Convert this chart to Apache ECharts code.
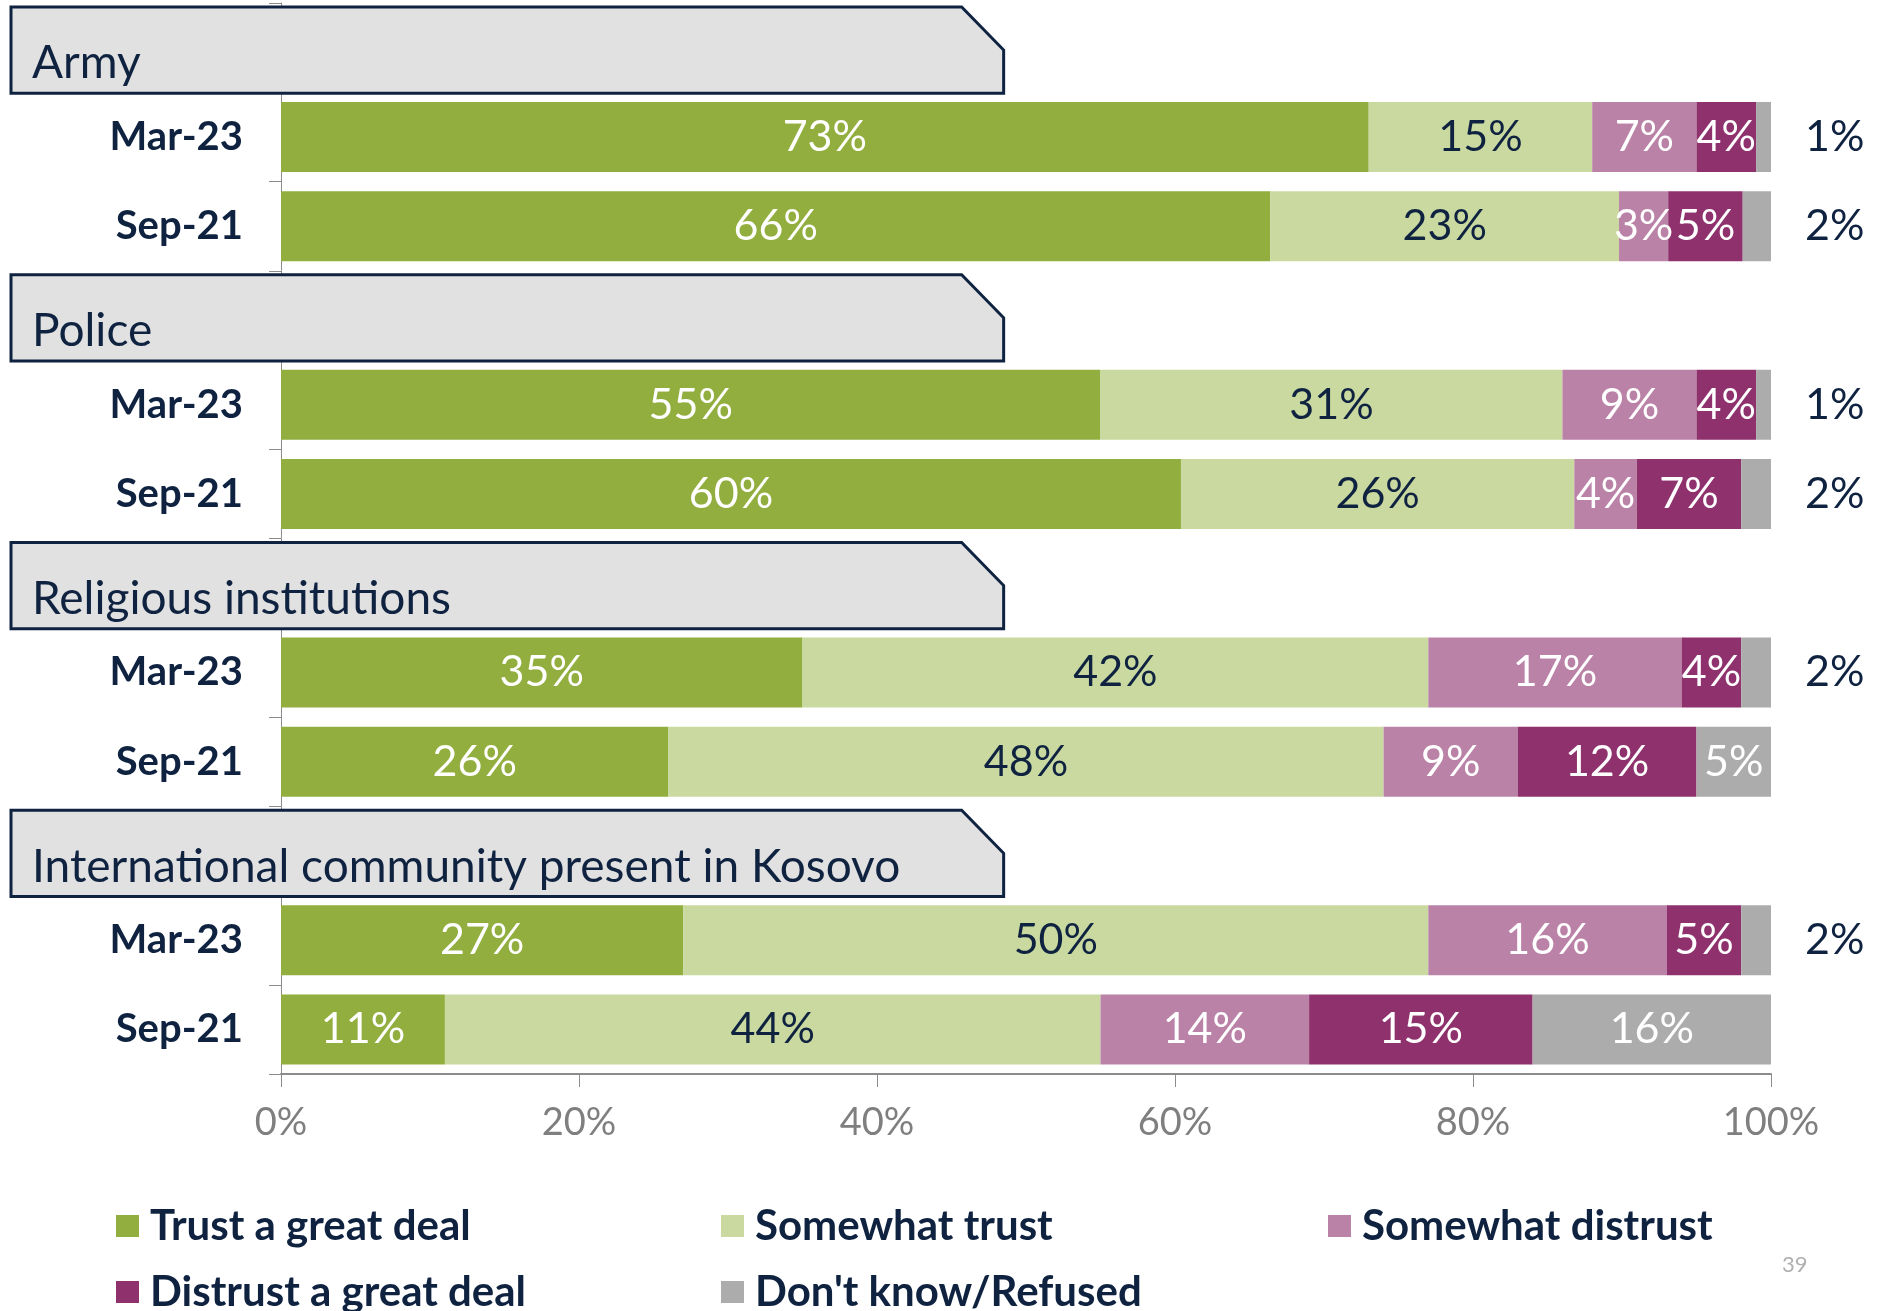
<!DOCTYPE html>
<html>
<head>
<meta charset="utf-8">
<script src="https://cdn.jsdelivr.net/npm/echarts@6/dist/echarts.min.js"></script>
<style>
html,body{margin:0;padding:0;background:#fff;}
#main{width:1877px;height:1311px;}
</style>
</head>
<body>
<div id="main"></div>
<script>
// groups and waves, top to bottom
var groups = ["Army", "Police", "Religious institutions", "International community present in Kosovo"];
var periods = ["Mar-23", "Sep-21"];
var names = ["Trust a great deal", "Somewhat trust", "Somewhat distrust", "Distrust a great deal", "Don't know/Refused"];
// per row: Army Mar, Army Sep, Police Mar, Police Sep, Rel Mar, Rel Sep, Intl Mar, Intl Sep
var trustGreat       = [73, 66.4, 55, 60.4, 35, 26, 27, 11];
var somewhatTrust    = [15, 23.4, 31, 26.4, 42, 48, 50, 44];
var somewhatDistrust = [7, 3.3, 9, 4.2, 17, 9, 16, 14];
var distrustGreat    = [4, 5, 4, 7, 4, 12, 5, 15];
var dontKnow         = [1, 1.9, 1, 2, 2, 5, 2, 16];
var xTicks = [0, 20, 40, 60, 80, 100];

var navy = "#0f2341";
var colors = ["#92ae3e", "#c9d9a0", "#bb82a8", "#8e316d", "#acacac"];

// categories: a header row + two period rows per group
var cats = [], rowLabels = [];
groups.forEach(function(g){
	cats.push(g);
	rowLabels.push("");
	periods.forEach(function(p){
		cats.push(g + "|" + p);
		rowLabels.push(p);
	});
});

function toRows(arr, isGray){
	var out = [];
	groups.forEach(function(g, i){
		out.push("-");
		[arr[2*i], arr[2*i+1]].forEach(function(v){
			if(isGray && v < 5){
				out.push({value:v, label:{position:"right", distance:34, color:navy}});
			}else{
				out.push(v);
			}
		});
	});
	return out;
}

var seriesData = [trustGreat, somewhatTrust, somewhatDistrust, distrustGreat, dontKnow];
var series = seriesData.map(function(arr, i){
	return {
		name:names[i],
		type:"bar",
		stack:"total",
		barWidth:70,
		itemStyle:{color:colors[i]},
		label:{
			show:true,
			position:"inside",
			color:i === 1 ? navy : "#fff",
			fontFamily:"Lato",
			fontSize:43,
			formatter:function(p){ return Math.round(p.value) + "%"; }
		},
		data:toRows(arr, i === 4)
	};
});

// group header tabs
series.push({
	type:"custom",
	z:5,
	clip:false,
	encode:{x:0, y:1},
	data:groups.map(function(g){ return [0, g]; }),
	renderItem:function(params, api){
		var c = api.coord([0, api.value(1)]);
		var band = api.size([0, 1])[1];
		var left = c[0] - 270;
		var right = api.coord([48.5, api.value(1)])[0];
		var top = c[1] - 0.455 * band;
		var bottom = c[1] + 0.51 * band;
		return {
			type:"group",
			children:[
				{
					type:"polygon",
					shape:{points:[[left, top], [right - 42, top], [right, top + 43], [right, bottom], [left, bottom]]},
					style:{fill:"#e1e1e1", stroke:navy, lineWidth:3}
				},
				{
					type:"text",
					style:{
						text:groups[params.dataIndex],
						x:left + 21,
						y:c[1] + 16,
						verticalAlign:"middle",
						fill:navy,
						font:"46px Lato"
					}
				}
			]
		};
	}
});

// one legend per entry, laid out in two rows of fixed columns
var legendCols = [111, 716, 1323];
var legends = names.map(function(n, i){
	return {
		data:[n],
		left:legendCols[i % 3],
		top:i < 3 ? 1200 : 1266,
		icon:"rect",
		itemWidth:23,
		itemHeight:22,
		textStyle:{color:navy, fontFamily:"Lato", fontWeight:"bold", fontSize:42, padding:[0, 0, 0, 6]}
	};
});

var myChart = echarts.init(document.getElementById("main"));
var option = {
	backgroundColor:"#fff",
	animation:false,
	grid:{left:281, right:106, top:3, bottom:237},
	xAxis:{
		type:"value",
		min:0,
		max:100,
		interval:20,
		splitLine:{show:false},
		axisLine:{show:true, lineStyle:{color:"#8c8c8c", width:2}},
		axisTick:{show:true, length:13, lineStyle:{color:"#8c8c8c", width:1}},
		axisLabel:{
			color:"#7f7f7f",
			fontFamily:"Lato",
			fontSize:38,
			margin:30,
			formatter:function(v){ return xTicks.indexOf(v) >= 0 ? v + "%" : ""; }
		}
	},
	yAxis:{
		type:"category",
		inverse:true,
		data:cats,
		axisLine:{show:true, lineStyle:{color:"#8c8c8c", width:1}},
		axisTick:{show:true, length:12, lineStyle:{color:"#8c8c8c"}},
		axisLabel:{
			color:navy,
			fontFamily:"Lato",
			fontWeight:"bold",
			fontSize:40,
			margin:38,
			formatter:function(v, i){ return rowLabels[i]; }
		}
	},
	legend:legends,
	graphic:[
		{type:"text", left:1782, top:1254, style:{text:"39", fill:"#b0b0b0", font:"22px Lato"}}
	],
	series:series
};
myChart.setOption(option);
</script>
</body>
</html>
